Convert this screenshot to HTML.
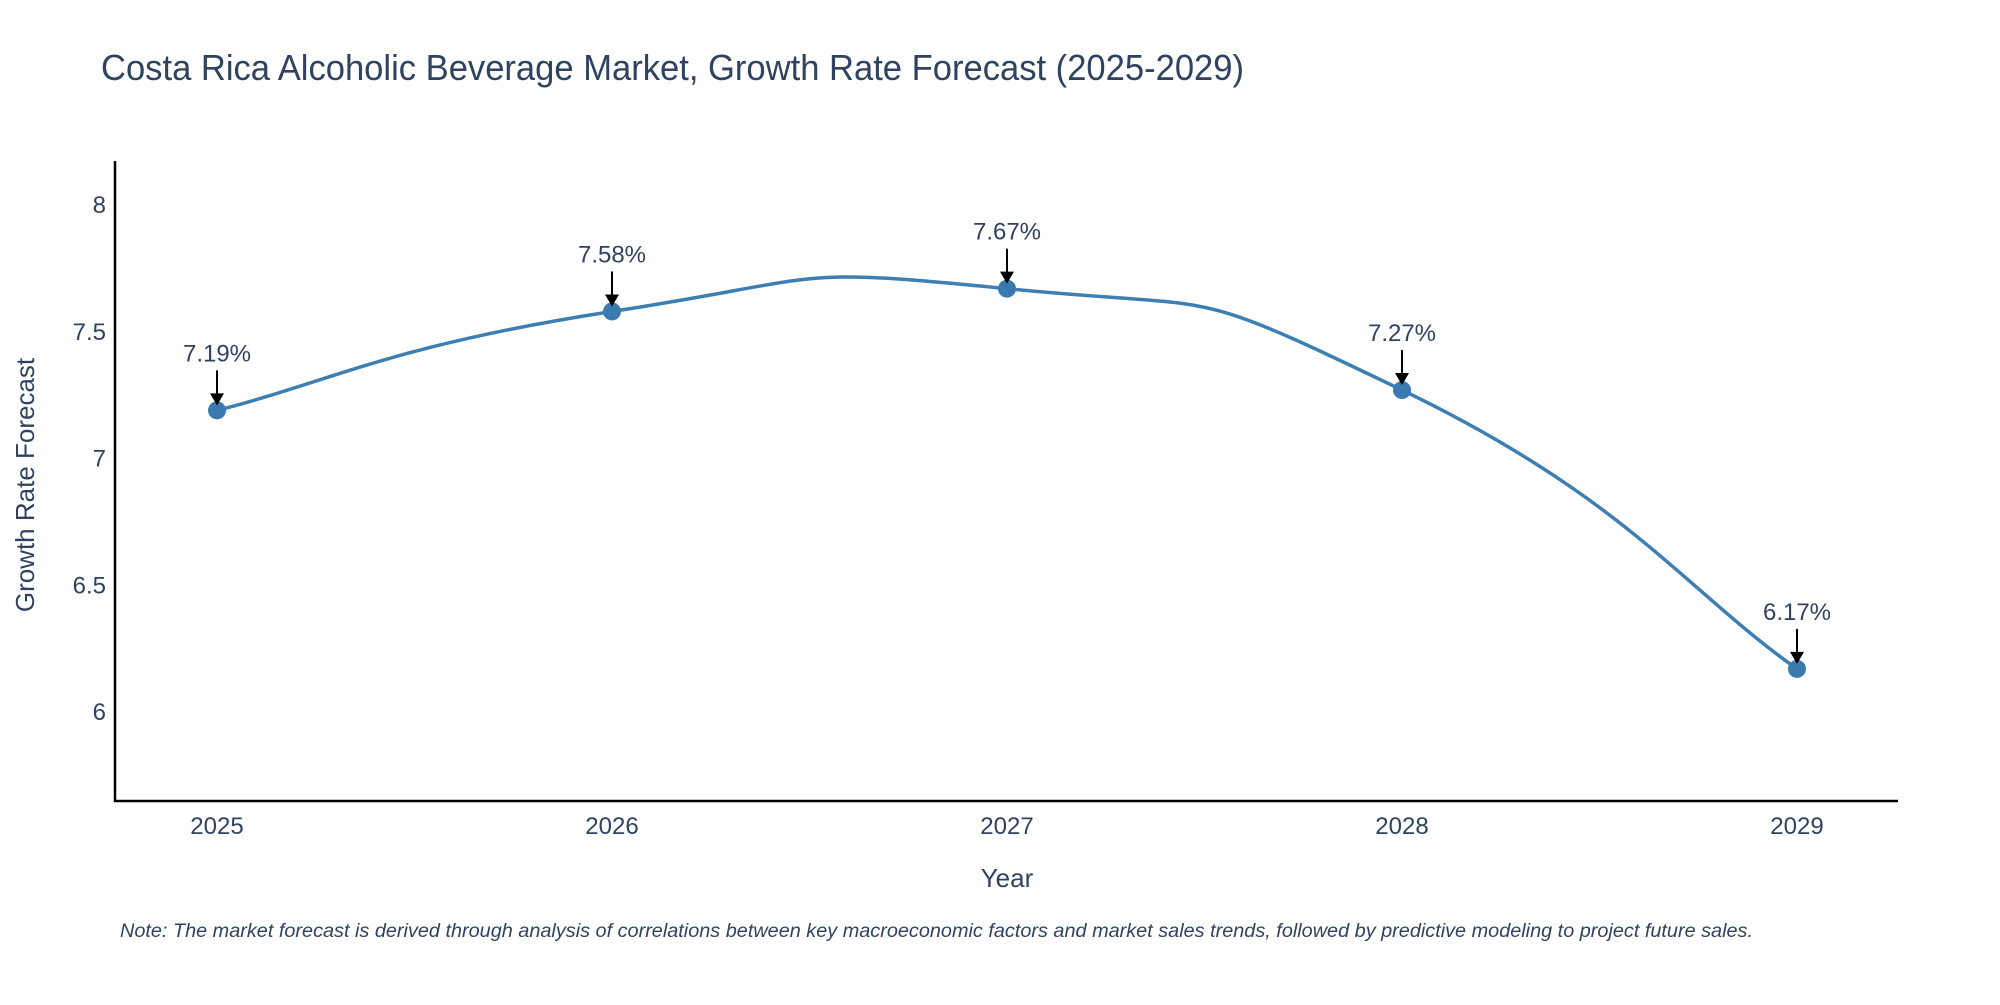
<!DOCTYPE html>
<html><head><meta charset="utf-8"><style>
body{margin:0;background:#fff}
svg text{font-family:"Liberation Sans",sans-serif;fill:#2f4360}
</style></head><body>
<svg width="2000" height="1000" xmlns="http://www.w3.org/2000/svg">
<text x="101" y="80" font-size="36" textLength="1143" lengthAdjust="spacingAndGlyphs">Costa Rica Alcoholic Beverage Market, Growth Rate Forecast (2025-2029)</text>
<g id="yticks"></g>
<g id="xticks"></g>
<line x1="115" y1="161" x2="115" y2="802" stroke="#000" stroke-width="2.5"/>
<line x1="114" y1="801" x2="1898" y2="801" stroke="#000" stroke-width="2.5"/>
<path id="line" fill="none" stroke="#3d7fb3" stroke-width="3.5"/>
<g id="marks"></g>
<g id="ann"></g>
<text x="1007" y="887" font-size="26" text-anchor="middle">Year</text>
<text transform="translate(34,485) rotate(-90)" font-size="26" text-anchor="middle">Growth Rate Forecast</text>
<text x="120" y="937" font-size="19" font-style="italic" textLength="1633" lengthAdjust="spacingAndGlyphs">Note: The market forecast is derived through analysis of correlations between key macroeconomic factors and market sales trends, followed by predictive modeling to project future sales.</text>
</svg>
<script>
const years=[2025,2026,2027,2028,2029];
const values=[7.19,7.58,7.67,7.27,6.17];
const labels=["7.19%","7.58%","7.67%","7.27%","6.17%"];
const yTicks=[6,6.5,7,7.5,8];
const NS="http://www.w3.org/2000/svg";
function X(yr){return 217+(yr-2025)*395;}
function Y(v){return 712-(v-6)*253.5;}
function mk(tag,attrs,parent){const e=document.createElementNS(NS,tag);for(const k in attrs)e.setAttribute(k,attrs[k]);parent.appendChild(e);return e;}
const yt=document.getElementById('yticks');
yTicks.forEach(t=>{const e=mk('text',{x:106,y:Y(t)+8,'font-size':24,'text-anchor':'end'},yt);e.textContent=String(t);

});
const xt=document.getElementById('xticks');
years.forEach(yr=>{const e=mk('text',{x:X(yr),y:834,'font-size':24,'text-anchor':'middle'},xt);e.textContent=String(yr);

});
const P=years.map((yr,i)=>[X(yr),Y(values[i])]);
let d="M"+P[0][0]+","+P[0][1];const s=0.85;
for(let i=0;i<P.length-1;i++){const p0=P[Math.max(i-1,0)],p1=P[i],p2=P[i+1],p3=P[Math.min(i+2,P.length-1)];
const c1=[p1[0]+(p2[0]-p0[0])*s/3,p1[1]+(p2[1]-p0[1])*s/3];
const c2=[p2[0]-(p3[0]-p1[0])*s/3,p2[1]-(p3[1]-p1[1])*s/3];
d+=" C"+c1+" "+c2+" "+p2;}
document.getElementById('line').setAttribute('d',d);
const mg=document.getElementById('marks'),ag=document.getElementById('ann');
P.forEach((p,i)=>{const c=mk('circle',{cx:p[0],cy:p[1],r:9,fill:'#3a7ab0'},mg);


const g=mk('g',{},ag);


mk('line',{x1:p[0],y1:p[1]-40,x2:p[0],y2:p[1]-14,stroke:'#000','stroke-width':2},g);
mk('path',{d:`M${p[0]-7},${p[1]-17} L${p[0]+7},${p[1]-17} L${p[0]},${p[1]-5} Z`,fill:'#000'},g);
const t=mk('text',{x:p[0],y:p[1]-49,'font-size':24,'text-anchor':'middle'},g);t.textContent=labels[i];});
</script>
</body></html>
